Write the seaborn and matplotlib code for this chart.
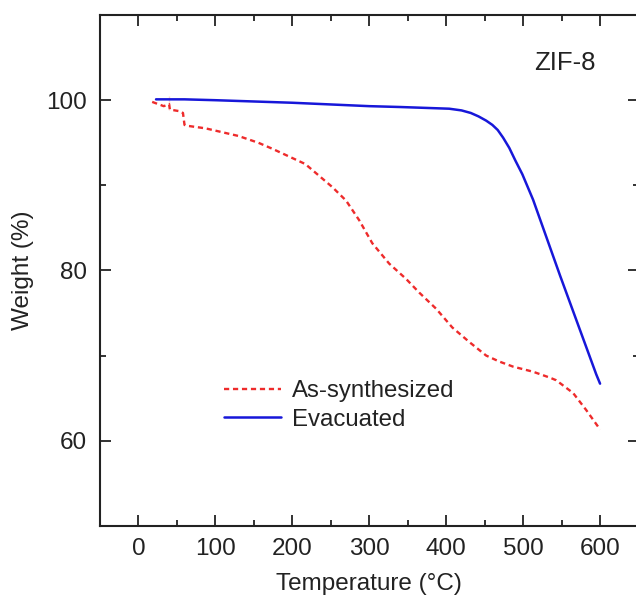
import matplotlib
matplotlib.use("Agg")
import matplotlib.pyplot as plt
import seaborn as sns
import pandas as pd
from matplotlib.ticker import MultipleLocator

# ---- data ----
as_syn_temp = [18, 33, 40, 40, 40, 41, 54, 58, 60, 63, 87, 130, 156, 174, 217, 252, 270,
               287, 304, 326, 348, 365, 387, 408, 430, 452, 469, 487, 513, 535,
               543, 565, 582, 597, 600]
as_syn_weight = [99.8, 99.3, 99.2, 100.5, 98.9, 98.9, 98.7, 98.5, 97.1, 97.0, 96.7, 95.8, 95.0,
                 94.3, 92.5, 89.8, 88.2, 85.9, 83.2, 80.8, 79.0, 77.4, 75.5, 73.3,
                 71.6, 70.0, 69.3, 68.7, 68.1, 67.4, 67.1, 65.6, 63.6, 61.7, 61.3]

evac_temp = [23, 60, 100, 200, 300, 340, 404, 420, 432, 442, 452, 460, 467,
             474, 482, 490, 499, 513, 548, 595, 600]
evac_weight = [100.1, 100.1, 100.0, 99.7, 99.3, 99.2, 99.0, 98.8, 98.5, 98.1, 97.6,
               97.1, 96.5, 95.6, 94.4, 92.9, 91.3, 88.3, 79.4, 67.8, 66.7]

series_labels = ["As-synthesized", "Evacuated"]
x_ticks = [0, 100, 200, 300, 400, 500, 600]
y_ticks = [60, 80, 100]

df_as = pd.DataFrame({"T": as_syn_temp, "W": as_syn_weight})
df_ev = pd.DataFrame({"T": evac_temp, "W": evac_weight})

sns.set_theme(style="ticks")
plt.rcParams["font.family"] = ["Liberation Sans", "DejaVu Sans"]

fig = plt.figure(figsize=(6.36, 6.03), dpi=100)
ax = fig.add_axes([0.157, 0.128, 0.847, 0.847])

sns.lineplot(data=df_as, x="T", y="W", ax=ax, sort=False, color="#ee2b2b",
             linewidth=1.7, linestyle=(0, (2.2, 1.6)), label=series_labels[0])
sns.lineplot(data=df_ev, x="T", y="W", ax=ax, sort=False, color="#1717d9",
             linewidth=1.8, label=series_labels[1])

ax.set_xlim(-50, 650)
ax.set_ylim(50, 110)
ax.set_xticks(x_ticks)
ax.set_yticks(y_ticks)
ax.xaxis.set_minor_locator(MultipleLocator(50))
ax.yaxis.set_minor_locator(MultipleLocator(10))
ax.tick_params(which="both", direction="in", top=True, right=True, width=1.3,
               labelsize=17.5, colors="#222222")
ax.tick_params(which="major", length=8, pad=9)
ax.tick_params(which="minor", length=4)
for s in ax.spines.values():
    s.set_linewidth(1.5)
    s.set_color("#222222")

ax.set_xlabel("Temperature (\u00b0C)", fontsize=17.5, labelpad=9, color="#222222")
ax.set_ylabel("Weight (%)", fontsize=17.5, labelpad=9, color="#222222")

ax.text(554, 104.35, "ZIF-8", fontsize=18.5, ha="center", va="center", color="#222222")

leg = ax.legend(loc="center left", bbox_to_anchor=(0.212, 0.236), frameon=False,
                fontsize=17.3, handlelength=2.4, handletextpad=0.45,
                labelspacing=0.28, borderaxespad=0)
for t in leg.get_texts():
    t.set_color("#222222")

fig.savefig("out.png", dpi=100)
